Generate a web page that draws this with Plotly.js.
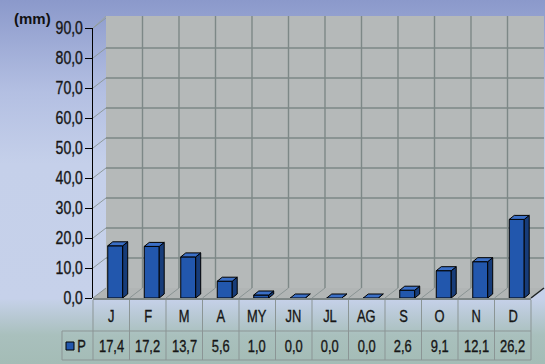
<!DOCTYPE html>
<html>
<head>
<meta charset="utf-8">
<script src="https://cdn.plot.ly/plotly-3.0.1.min.js"></script>
<style>
  html, body { margin: 0; padding: 0; }
  body {
    width: 545px; height: 364px; overflow: hidden;
    background: linear-gradient(180deg, #8b99cb 0%, #b3bfe2 25%, #c5d0ea 45%, #c6d1ea 82%, #a9c0bd 92%, #a4bcb6 100%);
  }
  #chart { width: 545px; height: 364px; }
  .ytick text, .annotation-text { stroke: #161616; stroke-width: 0.35px; }
</style>
</head>
<body>
<div id="chart"></div>
<script>
// ---- data ----
const months = ['J', 'F', 'M', 'A', 'MY', 'JN', 'JL', 'AG', 'S', 'O', 'N', 'D'];
const precip = [17.4, 17.2, 13.7, 5.6, 1.0, 0.0, 0.0, 0.0, 2.6, 9.1, 12.1, 26.2];
const seriesName = 'P';
const unitLabel = '(mm)';
const yTicks = [0, 10, 20, 30, 40, 50, 60, 70, 80, 90];

// ---- geometry (pixels) ----
const L = 93, R = 531, T = 28, B = 298;
const W = R - L, H = B - T;
const DX = 13, DY = 10;          // depth of walls / floor
const nCat = months.length;
const catW = W / nCat;
const yMax = 90;
const pxX = x => (x - L) / W;     // pixel -> paper
const pxY = y => (B - y) / H;

const gridCol = '#7d8887';
const tableCol = '#8b9595';
const shapes = [];
const annotations = [];

function line(x0, y0, x1, y1, color, width, layer) {
  shapes.push({type: 'line', xref: 'paper', yref: 'paper',
    x0: pxX(x0), y0: pxY(y0), x1: pxX(x1), y1: pxY(y1),
    line: {color: color, width: width}, layer: layer || 'below'});
}
function poly(pts, fill, lineColor, lineWidth, layer) {
  const d = pts.map((p, k) => (k ? 'L' : 'M') + pxX(p[0]) + ',' + pxY(p[1])).join(' ') + ' Z';
  shapes.push({type: 'path', xref: 'paper', yref: 'paper', path: d,
    fillcolor: fill, line: {color: lineColor || 'rgba(0,0,0,0)', width: lineWidth || 0},
    layer: layer || 'below'});
}
const valPx = v => B - v / yMax * H;

// back wall
poly([[L + DX, B - DY], [R + DX, B - DY], [R + DX, T - DY - 2], [L + DX, T - DY - 2]], '#b5b9b9');
line(L, T, L + DX, T - DY - 2, '#9aa4a6', 1);
// back wall horizontal gridlines + left-side diagonals
yTicks.forEach(v => {
  if (v === 0) return;
  const y = valPx(v);
  if (v < yMax) line(L + DX, y - DY, R + DX, y - DY, gridCol, 1.4);
  line(L, y, L + DX, y - DY, '#8e9a9a', 1);
});
// back wall vertical gridlines
for (let i = 1; i < nCat; i++) {
  const x = L + i * catW + DX;
  line(x, B - DY, x, T - DY - 2, gridCol, 1.4);
}
// floor
poly([[L, B], [R, B], [R + DX, B - DY], [L + DX, B - DY]], '#b1b5b5');
for (let i = 0; i <= nCat; i++) {
  const x = L + i * catW;
  line(x, B, x + DX, B - DY, i === nCat ? '#1e2222' : '#8a9494', i === nCat ? 1.5 : 1);
}
line(L, B + 1, R, B + 1, '#7e8787', 2);

// data table grid
line(62, 331, R, 331, tableCol, 1);
line(62, 360, R, 360, tableCol, 1);
line(62, 331, 62, 360, tableCol, 1);
for (let i = 0; i <= nCat; i++) {
  const x = L + i * catW;
  line(x, B + 2, x, 360, tableCol, 1);
}

// data table text (from arrays)
const narrowFam = '"Liberation Sans", Arimo, Arial, sans-serif';
const tableFont = {family: narrowFam, size: 17, color: '#161616'};
months.forEach((m, i) => {
  annotations.push({xref: 'x', yref: 'paper', x: i, y: pxY(316), text: m,
    showarrow: false, font: tableFont, xanchor: 'center', yanchor: 'middle'});
  annotations.push({xref: 'x', yref: 'paper', x: i, y: pxY(346),
    text: precip[i].toFixed(1).replace('.', ','),
    showarrow: false, font: tableFont, xanchor: 'center', yanchor: 'middle'});
});
// legend key in the table
poly([[66, 350], [74, 350], [74, 342], [66, 342]], '#2257ad', '#000', 1, 'above');
annotations.push({xref: 'paper', yref: 'paper', x: pxX(81), y: pxY(346), text: seriesName,
  showarrow: false, font: tableFont, xanchor: 'center', yanchor: 'middle'});
// unit label
annotations.push({xref: 'paper', yref: 'paper', x: pxX(32), y: pxY(18), text: '<b>' + unitLabel + '</b>',
  showarrow: false, font: {family: '"Liberation Sans", Arial, sans-serif', size: 15, color: '#111'},
  xanchor: 'center', yanchor: 'middle'});

// 3D faces of bars (data coordinates)
const barW = 0.41, barOff = -0.096;
const dxu = 5 / catW, dyu = 4 / (H / yMax);
precip.forEach((v, i) => {
  const x0 = i + barOff, x1 = x0 + barW;
  shapes.push({type: 'path', xref: 'x', yref: 'y', layer: 'above',
    path: `M${x1},0 L${x1},${v} L${x1 + dxu},${v + dyu} L${x1 + dxu},${dyu} Z`,
    fillcolor: '#173c79', line: {color: '#000', width: 1}});
  shapes.push({type: 'path', xref: 'x', yref: 'y', layer: 'above',
    path: `M${x0},${v} L${x1},${v} L${x1 + dxu},${v + dyu} L${x0 + dxu},${v + dyu} Z`,
    fillcolor: '#3b6fc6', line: {color: '#000', width: 1}});
});

const trace = {
  type: 'bar',
  x: months.map((m, i) => i),
  y: precip,
  name: seriesName,
  width: barW,
  offset: barOff,
  marker: {color: '#2257ad', line: {color: '#000', width: 1}},
  hoverinfo: 'skip'
};

const layout = {
  width: 545, height: 364,
  margin: {l: L, r: 545 - R, t: T, b: 364 - B, pad: 0},
  paper_bgcolor: 'rgba(0,0,0,0)',
  plot_bgcolor: 'rgba(0,0,0,0)',
  separators: ',.',
  showlegend: false,
  xaxis: {range: [-0.5, nCat - 0.5], showticklabels: false, showgrid: false,
    zeroline: false, showline: false, ticks: '', fixedrange: true},
  yaxis: {range: [0, yMax], tickvals: yTicks, tickformat: '.1f', ticks: 'outside',
    ticklen: 7, tickwidth: 1, tickcolor: '#000', showline: true, linecolor: '#000',
    linewidth: 1.5, showgrid: false, zeroline: false, fixedrange: true,
    ticklabelstandoff: -2,
    tickfont: {family: narrowFam, size: 18, color: '#161616'}},
  shapes: shapes,
  annotations: annotations
};

// horizontally condense text (the reference uses a condensed face)
function condense(nodes, s) {
  nodes.forEach(t => {
    const bb = t.getBBox();
    const a = t.getAttribute('text-anchor');
    const ax = a === 'end' ? bb.x + bb.width : (a === 'middle' ? bb.x + bb.width / 2 : bb.x);
    const prev = t.getAttribute('transform') || '';
    t.setAttribute('transform', prev + ` translate(${ax},0) scale(${s},1) translate(${-ax},0)`);
  });
}

Plotly.newPlot('chart', [trace], layout, {displayModeBar: false, staticPlot: true}).then(gd => {
  condense(Array.from(gd.querySelectorAll('.ytick text')), 0.78);
  const ann = Array.from(gd.querySelectorAll('.annotation-text'))
    .filter(t => t.textContent !== unitLabel);
  condense(ann, 0.76);
  gd.querySelectorAll('.annotation-text').forEach(t => {
    if (t.textContent === unitLabel) t.style.stroke = 'none';
  });
});
</script>
</body>
</html>
